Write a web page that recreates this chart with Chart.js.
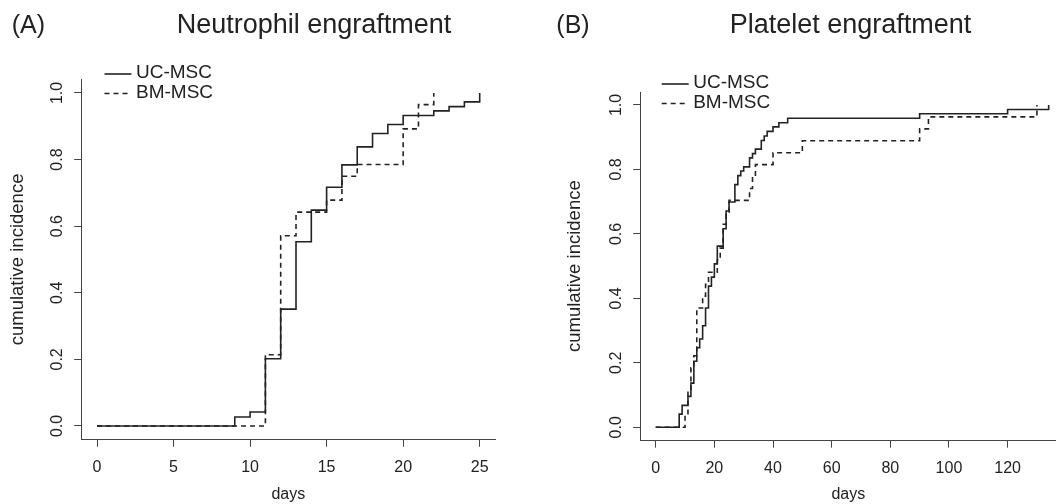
<!DOCTYPE html>
<html>
<head>
<meta charset="utf-8">
<script src="https://cdn.jsdelivr.net/npm/chart.js@4.4.1/dist/chart.umd.min.js"></script>
<style>
  html, body { margin: 0; padding: 0; background: #fff; overflow: hidden; }
  #wrap { position: relative; width: 1056px; height: 504px; }
  canvas { position: absolute; top: 0; }
</style>
</head>
<body>
<div id="wrap">
  <canvas id="chartA" width="528" height="504" style="left:0"></canvas>
  <canvas id="chartB" width="528" height="504" style="left:528px"></canvas>
</div>
<script>
// ---------------------------------------------------------------
// data
// ---------------------------------------------------------------
const neutroDaysUC = [0, 9, 10, 11, 12, 13, 14, 15, 16, 17, 18, 19, 20, 22, 23, 24, 25];
const neutroIncUC  = [0, 0.027, 0.042, 0.202, 0.351, 0.553, 0.648, 0.717, 0.784, 0.838, 0.878, 0.905, 0.932, 0.946, 0.959, 0.973, 1.0];
const neutroDaysBM = [0, 11, 12, 13, 15, 16, 17, 20, 21, 22];
const neutroIncBM  = [0, 0.214, 0.571, 0.642, 0.678, 0.750, 0.785, 0.892, 0.965, 1.0];

const plateDaysUC = [0, 8, 9, 11, 12, 13, 14, 15, 16, 17, 18, 19, 20, 21, 23, 24, 25, 27, 28, 29,
                     30, 32, 33, 34, 36, 37, 38, 40, 42, 45, 90, 120, 134];
const plateIncUC  = [0, 0.041, 0.068, 0.096, 0.137, 0.205, 0.247, 0.274, 0.315, 0.370, 0.438, 0.466, 0.507, 0.562, 0.616, 0.671, 0.699, 0.753, 0.781, 0.795,
                     0.808, 0.836, 0.849, 0.863, 0.890, 0.904, 0.918, 0.932, 0.945, 0.959, 0.973, 0.986, 1.0];
const plateDaysBM = [0, 10, 11, 12, 13, 14, 16, 17, 18, 21, 22, 23, 24, 25, 32, 33, 34, 40, 50, 90, 93, 130];
const plateIncBM  = [0, 0.037, 0.111, 0.185, 0.222, 0.370, 0.407, 0.444, 0.481, 0.519, 0.556, 0.630, 0.667, 0.704, 0.741, 0.778, 0.815, 0.852, 0.889, 0.926, 0.963, 1.0];

const seriesLabels = ['UC-MSC', 'BM-MSC'];
const xTicksA = [0, 5, 10, 15, 20, 25];
const xTicksB = [0, 20, 40, 60, 80, 100, 120];
const yTicks = [0, 0.2, 0.4, 0.6, 0.8, 1.0];
const yTickLabels = ['0.0', '0.2', '0.4', '0.6', '0.8', '1.0'];

// ---------------------------------------------------------------
// styles
// ---------------------------------------------------------------
const FONT = "'Liberation Sans', Arial, Helvetica, sans-serif";
const INK = '#222';
const AXIS = '#444';

function toXY(xs, ys) {
  return xs.map((x, i) => ({ x: x, y: ys[i] }));
}

// panel letter, title and the small R-style legend
const panelText = {
  id: 'panelText',
  afterDraw(chart, args, opts) {
    const ctx = chart.ctx;
    ctx.save();
    ctx.fillStyle = INK;
    ctx.textAlign = 'left';
    ctx.textBaseline = 'alphabetic';
    ctx.font = '25px ' + FONT;
    ctx.fillText(opts.letter, opts.letterX, opts.baseline);
    ctx.font = '27px ' + FONT;
    ctx.fillText(opts.title, opts.titleX, opts.baseline);

    ctx.font = '19px ' + FONT;
    ctx.textBaseline = 'middle';
    chart.data.datasets.forEach((ds, i) => {
      const y = opts.legendY + i * opts.legendGap;
      ctx.strokeStyle = ds.borderColor;
      ctx.lineWidth = ds.borderWidth;
      ctx.setLineDash(ds.borderDash || []);
      ctx.beginPath();
      ctx.moveTo(opts.legendX, y);
      ctx.lineTo(opts.legendX + 27, y);
      ctx.stroke();
      ctx.setLineDash([]);
      ctx.fillText(ds.label, opts.legendX + 31.5, y - 1);
    });
    ctx.restore();
  }
};

function makeChart(id, p) {
  return new Chart(document.getElementById(id), {
    type: 'line',
    data: {
      datasets: [
        { label: seriesLabels[0], data: toXY(p.ucDays, p.ucInc), borderColor: INK, borderWidth: 1.6,
          stepped: 'before', pointRadius: 0, fill: false },
        { label: seriesLabels[1], data: toXY(p.bmDays, p.bmInc), borderColor: INK, borderWidth: 1.6,
          borderDash: [5, 4], stepped: 'before', pointRadius: 0, fill: false }
      ]
    },
    options: {
      responsive: false,
      animation: false,
      devicePixelRatio: 1,
      layout: { padding: { left: 0, right: p.padRight, top: p.padTop, bottom: 0 } },
      plugins: {
        legend: { display: false },
        tooltip: { enabled: false },
        panelText: p.text
      },
      scales: {
        x: {
          type: 'linear', min: p.xMin, max: p.xMax, bounds: 'data',
          afterBuildTicks: s => { s.ticks = p.xTicks.map(v => ({ value: v })); },
          afterFit: s => { s.height = p.xAxisH; },
          ticks: { font: { family: FONT, size: 16 }, color: INK, padding: 11, maxRotation: 0, autoSkip: false },
          grid: { drawOnChartArea: false, drawTicks: true, tickLength: 7.5, color: AXIS, lineWidth: 1 },
          border: { display: true, color: AXIS, width: 1 },
          title: { display: true, text: 'days', font: { family: FONT, size: 16 }, color: INK,
                   padding: { top: 0, bottom: 0 } }
        },
        y: {
          type: 'linear', min: -0.04, max: 1.04, bounds: 'data',
          afterBuildTicks: s => { s.ticks = yTicks.map(v => ({ value: v })); },
          afterFit: s => { s.width = p.yAxisW; },
          ticks: { font: { family: FONT, size: 16 }, color: INK, padding: 5.5, minRotation: 90, maxRotation: 90,
                   crossAlign: 'center', autoSkip: false, callback: (v, i) => yTickLabels[i] },
          grid: { drawOnChartArea: false, drawTicks: true, tickLength: 7.5, color: AXIS, lineWidth: 1 },
          border: { display: true, color: AXIS, width: 1 },
          title: { display: true, text: 'cumulative incidence', font: { family: FONT, size: 18.5 }, color: INK,
                   padding: { top: p.yTitlePad, bottom: 0 } }
        }
      }
    },
    plugins: [panelText]
  });
}

makeChart('chartA', {
  ucDays: neutroDaysUC, ucInc: neutroIncUC, bmDays: neutroDaysBM, bmInc: neutroIncBM,
  xMin: -1, xMax: 26, xTicks: xTicksA,
  padRight: 33, padTop: 79.6, xAxisH: 64.7, yAxisW: 81.7, yTitlePad: 6.9,
  text: { letter: '(A)', letterX: 11.7, title: 'Neutrophil engraftment', titleX: 176.7, baseline: 33.3,
          legendX: 104.5, legendY: 74, legendGap: 19.5 }
});

makeChart('chartB', {
  ucDays: plateDaysUC, ucInc: plateIncUC, bmDays: plateDaysBM, bmInc: plateIncBM,
  xMin: -5.12, xMax: 136.5, xTicks: xTicksB,
  padRight: 0, padTop: 92.1, xAxisH: 63.8, yAxisW: 112.7, yTitlePad: 35.9,
  text: { letter: '(B)', letterX: 28.3, title: 'Platelet engraftment', titleX: 201.7, baseline: 33.3,
          legendX: 133.7, legendY: 84, legendGap: 19.5 }
});
</script>
</body>
</html>
